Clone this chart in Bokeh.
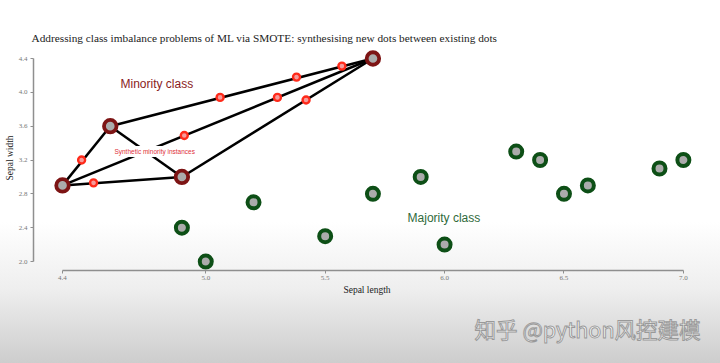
from bokeh.plotting import figure
from bokeh.models import Range1d, FixedTicker, PrintfTickFormatter, Label, Title
from bokeh.embed import file_html
from bokeh.resources import INLINE

# ---------------- data ----------------
title_text = "Addressing class imbalance problems of ML via SMOTE: synthesising new dots between existing dots"
x_label = "Sepal length"
y_label = "Sepal width"

minority_x = [4.4, 4.6, 4.9, 5.7]
minority_y = [2.9, 3.6, 3.0, 4.4]

majority_x = [4.9, 5.0, 5.2, 5.5, 5.7, 5.9, 6.0, 6.3, 6.4, 6.5, 6.6, 6.9, 7.0]
majority_y = [2.4, 2.0, 2.7, 2.3, 2.8, 3.0, 2.2, 3.3, 3.2, 2.8, 2.9, 3.1, 3.2]

synthetic_x = [4.48, 4.53, 5.06, 5.38, 5.57, 4.91, 5.30, 5.42]
synthetic_y = [3.20, 2.93, 3.94, 4.18, 4.31, 3.49, 3.94, 3.91]

# links between minority points (index pairs)
edge_pairs = [(0, 1), (0, 2), (0, 3), (1, 2), (1, 3), (2, 3)]

x_ticks = [4.4, 5.0, 5.5, 6.0, 6.5, 7.0]
y_ticks = [2.0, 2.4, 2.8, 3.2, 3.6, 4.0, 4.4]

minority_text = "Minority class"
majority_text = "Majority class"
synthetic_text = "Synthetic minority instances"
watermark_text = "知乎 @python风控建模"

# ---------------- figure ----------------
p = figure(width=720, height=363, output_backend="svg", toolbar_location=None,
           x_range=Range1d(4.2786, 7.0717), y_range=Range1d(1.8941, 4.5537),
           min_border_left=33, min_border_right=20, min_border_top=45, min_border_bottom=93)
p.border_fill_color = None
p.background_fill_color = None
p.outline_line_color = None
p.styles = {"background": "linear-gradient(to bottom, #ffffff 0px, #ffffff 222px, #eeeeee 290px, #cdcdcd 363px)"}
p.xgrid.visible = False
p.ygrid.visible = False

p.title.text = title_text
p.title.text_font = "Liberation Serif"
p.title.text_font_size = "11.3px"
p.title.text_font_style = "normal"
p.title.text_color = "#222222"
p.title.align = "left"
p.title.offset = -2
p.title.standoff = 4

for ax in (p.xaxis[0], p.yaxis[0]):
    ax.axis_line_color = "#8f8f8f"
    ax.axis_line_width = 1.5
    ax.major_tick_line_color = "#8f8f8f"
    ax.major_tick_out = 3
    ax.major_tick_in = 0
    ax.minor_tick_line_color = None
    ax.major_label_text_font = "Liberation Serif"
    ax.major_label_text_font_size = "7px"
    ax.major_label_text_color = "#777777"
    ax.axis_label_text_font = "Liberation Serif"
    ax.axis_label_text_font_size = "9.5px"
    ax.axis_label_text_font_style = "normal"
    ax.axis_label_text_color = "#222222"
    ax.formatter = PrintfTickFormatter(format="%.1f")

p.xaxis[0].ticker = FixedTicker(ticks=x_ticks)
p.yaxis[0].ticker = FixedTicker(ticks=y_ticks)
p.xaxis[0].bounds = (x_ticks[0], x_ticks[-1])
p.yaxis[0].bounds = (y_ticks[0], y_ticks[-1])
p.xaxis[0].axis_label = x_label
p.yaxis[0].axis_label = y_label
p.xaxis[0].major_label_standoff = 2
p.yaxis[0].major_label_standoff = 3
p.xaxis[0].axis_label_standoff = 2
p.yaxis[0].axis_label_standoff = 1

# links
xs = [[minority_x[i], minority_x[j]] for i, j in edge_pairs]
ys = [[minority_y[i], minority_y[j]] for i, j in edge_pairs]
p.multi_line(xs, ys, line_color="black", line_width=2.5)

# majority
p.scatter(majority_x, majority_y, size=12, fill_color="#ababab",
          line_color="#0d4f16", line_width=4)
# minority
p.scatter(minority_x, minority_y, size=12.5, fill_color="#ababab",
          line_color="#7d1414", line_width=3.8)
# synthetic
p.scatter(synthetic_x, synthetic_y, size=7, fill_color="#f59a9a",
          line_color="#ff2a1a", line_width=2.4)

p.add_layout(Label(x=4.643, y=4.104, text=minority_text,
                   text_font="Liberation Sans", text_font_size="12px",
                   text_color="#8a1c22", text_baseline="middle"))
p.add_layout(Label(x=5.845, y=2.509, text=majority_text,
                   text_font="Liberation Sans", text_font_size="12px",
                   text_color="#2f6a3a", text_baseline="middle"))
p.add_layout(Label(x=4.609, y=3.30, text=synthetic_text,
                   text_font="Liberation Sans", text_font_size="6.5px",
                   text_color="#e0303a", text_baseline="middle",
                   background_fill_color="white", padding=2))

# watermark placed in the panel below the x axis
wm = Title(text=watermark_text, align="right", offset=0, standoff=26,
           text_font="Noto Sans CJK SC", text_font_size="21.5px",
           text_font_style="normal", text_color="white",
           text_outline_color="#999999")
p.add_layout(wm, "below")

open("out.html", "w").write(file_html(p, INLINE))
